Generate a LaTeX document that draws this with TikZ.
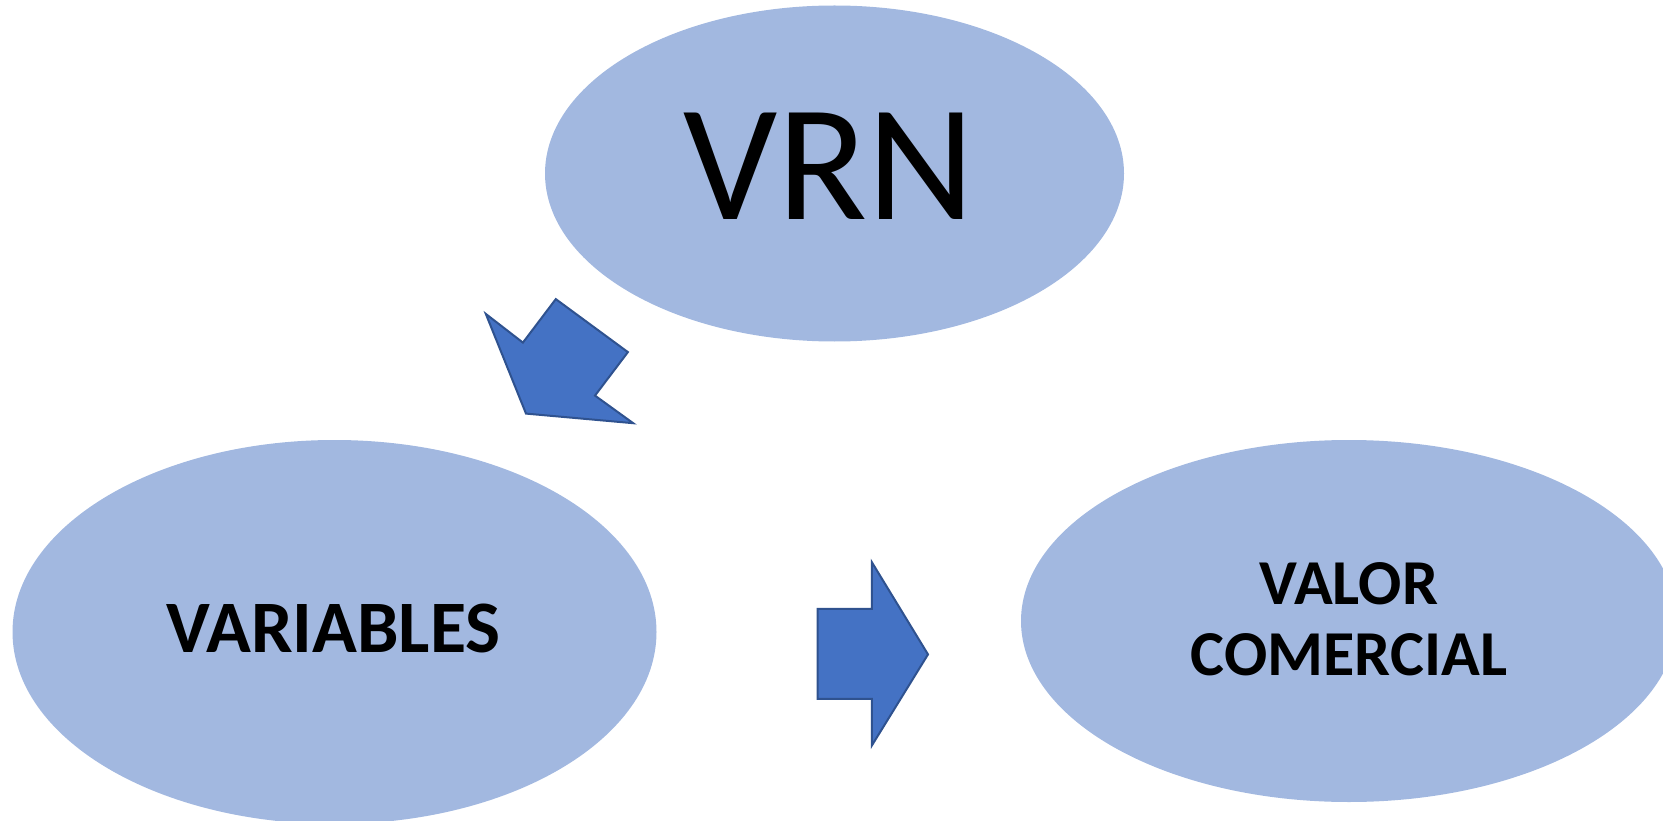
\documentclass[tikz,border=0pt]{standalone}
\usepackage{fontspec}
\setmainfont{Carlito}
\usetikzlibrary{shapes.geometric}
\definecolor{bubblefill}{HTML}{A2B8E0}
\definecolor{arrowfill}{HTML}{4472C4}
\definecolor{arrowline}{HTML}{2F528F}

\begin{document}
\begin{tikzpicture}[x=1pt,y=-1pt,
  bubble/.style={ellipse, fill=bubblefill, draw=none, inner sep=0pt},
  blockarrow/.style={fill=arrowfill, draw=arrowline, line width=2pt, line join=miter},
  label/.style={inner sep=0pt, anchor=base, align=center}]
\clip (0,0) rectangle (1663,821);

% the three ovals
\node[bubble, minimum width=579pt, minimum height=336pt] (vrn) at (834.5,173.5) {};
\node[bubble, minimum width=644pt, minimum height=384pt] (var) at (334.5,632) {};
\node[bubble, minimum width=656pt, minimum height=362pt] (val) at (1349,621) {};

% their texts
\node[label, font=\fontsize{166}{170}\selectfont] (vrntext) at (829,220) {VRN};
\node[label, font=\bfseries\fontsize{74}{80}\selectfont] (vartext) at (333.5,652) {VARIABLES};
\node[label, font=\bfseries\fontsize{64}{71}\selectfont, anchor=center] (valtext) at (1349,619) {VALOR\\COMERCIAL};

% block arrow from the top oval down to the left one
\draw[blockarrow] (485.8,313.9) -- (522.9,342.6) -- (555.8,299.1) -- (627.9,352.1)
  -- (595,395.6) -- (633.2,423.2) -- (526,413.6) -- cycle;

% block arrow pointing right, between the two lower ovals
\draw[blockarrow] (817.7,608.8) -- (871.8,608.8) -- (871.8,562.1) -- (928,654.4)
  -- (871.8,745.6) -- (871.8,698.9) -- (817.7,698.9) -- cycle;
\end{tikzpicture}
\end{document}
